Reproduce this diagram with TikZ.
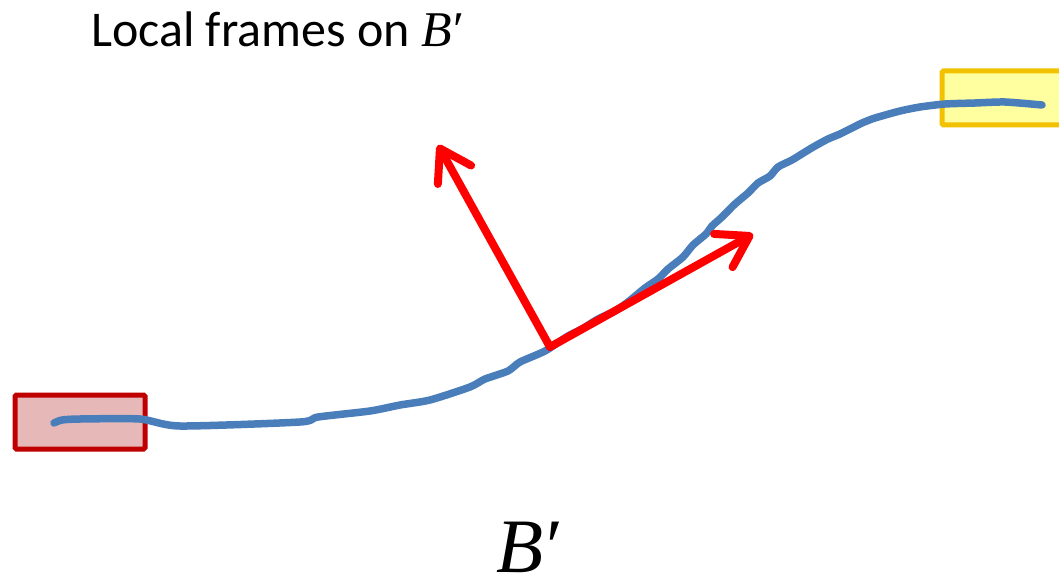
\documentclass[tikz,border=0pt]{standalone}
\usepackage{fontspec}
\setmainfont{Carlito}
\newfontfamily\symfam{Liberation Serif}
\usetikzlibrary{arrows.meta}
\definecolor{curveblue}{RGB}{74,126,187}
\definecolor{boxred}{RGB}{192,0,0}
\definecolor{boxredfill}{RGB}{230,185,184}
\definecolor{boxyellow}{RGB}{242,194,0}
\definecolor{boxyellowfill}{RGB}{255,255,160}
\newcommand{\Bprime}{{\symfam\itshape B\kern0.04em\upshape′}}
\tikzset{
  endbox/.style={draw, line width=5pt, rounded corners=1.5pt},
  curve/.style={curveblue, line width=7.5pt, line cap=round, line join=round},
  framearrow/.style={red, line width=8pt, line cap=round,
    -{Straight Barb[length=30pt, width=38pt, line width=8pt, round]}}
}
\begin{document}
\begin{tikzpicture}[x=1pt,y=-1pt]
\useasboundingbox (0,0) rectangle (1059,580);
% end boxes
\draw[endbox, draw=boxred, fill=boxredfill] (15,395) rectangle (145,449);
\draw[endbox, draw=boxyellow, fill=boxyellowfill] (942,71) rectangle (1075,125);
% curve B'
\draw[curve] plot[smooth, tension=0.4] coordinates {
 (54,423) (62,420) (80,419) (140,419) (180,426) (300,422) (318,417)
 (370,411) (400,405) (430,400) (470,387) (485,379) (508,371) (520,362)
 (545,351) (568,336) (582,329) (598,319) (615,311) (628,302) (645,288)
 (658,279) (668,269) (683,257) (693,245) (706,234) (712,226) (722,217)
 (735,204) (748,193) (758,183) (770,176) (778,167) (792,160) (805,152)
 (815,146) (828,139) (840,134) (852,128) (862,123) (875,118) (900,111)
 (920,107) (945,104) (975,103) (1005,102) (1042,105)};
% local frame
\coordinate (o) at (550,347);
\coordinate (t) at (753,234);
\coordinate (n) at (438,145);
\draw[framearrow] (o) -- (t);
\draw[framearrow] (o) -- (n);
% texts
\node[anchor=base west, inner sep=0pt, text depth=0pt, font=\fontsize{50}{54}\selectfont] (title) at (91,47) {Local frames on \Bprime};
\node[anchor=base west, inner sep=0pt, text depth=0pt, font=\fontsize{77}{84}\selectfont] (label) at (496,572) {\Bprime};
\end{tikzpicture}
\end{document}
